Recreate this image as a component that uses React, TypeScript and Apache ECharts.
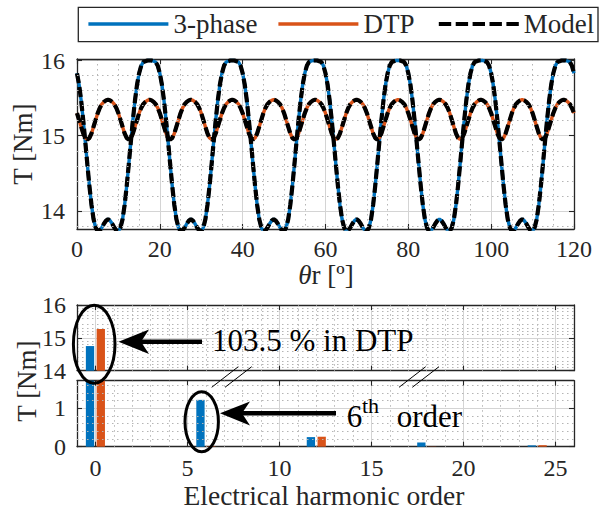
import React, { useEffect, useRef } from 'react';
import * as echarts from 'echarts';

// ---------- data ----------
const thetaStepDeg = 0.5; // sampling step of the rotor angle [deg]

// Torque of the 3-phase machine, theta = 0 .. 120 deg every 0.5 deg
const torque3Phase = [
  15.83, 15.68, 15.47, 15.21, 14.92, 14.62, 14.33, 14.08, 13.89, 13.78, 13.73, 13.74, 13.78, 13.83, 13.87, 13.89, 13.87, 13.83, 13.78, 13.74, 13.73, 13.78, 13.89, 14.08, 14.33, 14.62, 14.92, 15.21, 15.47, 15.68, 15.83, 15.93, 15.98, 15.99, 16.0, 16.0, 16.0, 15.99, 15.98, 15.93,
  15.83, 15.68, 15.47, 15.21, 14.92, 14.62, 14.33, 14.08, 13.89, 13.78, 13.73, 13.74, 13.78, 13.83, 13.87, 13.89, 13.87, 13.83, 13.78, 13.74, 13.73, 13.78, 13.89, 14.08, 14.33, 14.62, 14.92, 15.21, 15.47, 15.68, 15.83, 15.93, 15.98, 15.99, 16.0, 16.0, 16.0, 15.99, 15.98, 15.93,
  15.83, 15.68, 15.47, 15.21, 14.92, 14.62, 14.33, 14.08, 13.89, 13.78, 13.73, 13.74, 13.78, 13.83, 13.87, 13.89, 13.87, 13.83, 13.78, 13.74, 13.73, 13.78, 13.89, 14.08, 14.33, 14.62, 14.92, 15.21, 15.47, 15.68, 15.83, 15.93, 15.98, 15.99, 16.0, 16.0, 16.0, 15.99, 15.98, 15.93,
  15.83, 15.68, 15.47, 15.21, 14.92, 14.62, 14.33, 14.08, 13.89, 13.78, 13.73, 13.74, 13.78, 13.83, 13.87, 13.89, 13.87, 13.83, 13.78, 13.74, 13.73, 13.78, 13.89, 14.08, 14.33, 14.62, 14.92, 15.21, 15.47, 15.68, 15.83, 15.93, 15.98, 15.99, 16.0, 16.0, 16.0, 15.99, 15.98, 15.93,
  15.83, 15.68, 15.47, 15.21, 14.92, 14.62, 14.33, 14.08, 13.89, 13.78, 13.73, 13.74, 13.78, 13.83, 13.87, 13.89, 13.87, 13.83, 13.78, 13.74, 13.73, 13.78, 13.89, 14.08, 14.33, 14.62, 14.92, 15.21, 15.47, 15.68, 15.83, 15.93, 15.98, 15.99, 16.0, 16.0, 16.0, 15.99, 15.98, 15.93,
  15.83, 15.68, 15.47, 15.21, 14.92, 14.62, 14.33, 14.08, 13.89, 13.78, 13.73, 13.74, 13.78, 13.83, 13.87, 13.89, 13.87, 13.83, 13.78, 13.74, 13.73, 13.78, 13.89, 14.08, 14.33, 14.62, 14.92, 15.21, 15.47, 15.68, 15.83, 15.93, 15.98, 15.99, 16.0, 16.0, 16.0, 15.99, 15.98, 15.93,
  15.83,
];

// Torque of the DTP machine, theta = 0 .. 120 deg every 0.5 deg
const torqueDTP = [
  15.30, 15.21, 15.12, 15.03, 14.97, 14.95, 14.97, 15.03, 15.12, 15.21, 15.30, 15.37, 15.42, 15.45, 15.47, 15.48, 15.47, 15.45, 15.42, 15.37,
  15.30, 15.21, 15.12, 15.03, 14.97, 14.95, 14.97, 15.03, 15.12, 15.21, 15.30, 15.37, 15.42, 15.45, 15.47, 15.48, 15.47, 15.45, 15.42, 15.37,
  15.30, 15.21, 15.12, 15.03, 14.97, 14.95, 14.97, 15.03, 15.12, 15.21, 15.30, 15.37, 15.42, 15.45, 15.47, 15.48, 15.47, 15.45, 15.42, 15.37,
  15.30, 15.21, 15.12, 15.03, 14.97, 14.95, 14.97, 15.03, 15.12, 15.21, 15.30, 15.37, 15.42, 15.45, 15.47, 15.48, 15.47, 15.45, 15.42, 15.37,
  15.30, 15.21, 15.12, 15.03, 14.97, 14.95, 14.97, 15.03, 15.12, 15.21, 15.30, 15.37, 15.42, 15.45, 15.47, 15.48, 15.47, 15.45, 15.42, 15.37,
  15.30, 15.21, 15.12, 15.03, 14.97, 14.95, 14.97, 15.03, 15.12, 15.21, 15.30, 15.37, 15.42, 15.45, 15.47, 15.48, 15.47, 15.45, 15.42, 15.37,
  15.30, 15.21, 15.12, 15.03, 14.97, 14.95, 14.97, 15.03, 15.12, 15.21, 15.30, 15.37, 15.42, 15.45, 15.47, 15.48, 15.47, 15.45, 15.42, 15.37,
  15.30, 15.21, 15.12, 15.03, 14.97, 14.95, 14.97, 15.03, 15.12, 15.21, 15.30, 15.37, 15.42, 15.45, 15.47, 15.48, 15.47, 15.45, 15.42, 15.37,
  15.30, 15.21, 15.12, 15.03, 14.97, 14.95, 14.97, 15.03, 15.12, 15.21, 15.30, 15.37, 15.42, 15.45, 15.47, 15.48, 15.47, 15.45, 15.42, 15.37,
  15.30, 15.21, 15.12, 15.03, 14.97, 14.95, 14.97, 15.03, 15.12, 15.21, 15.30, 15.37, 15.42, 15.45, 15.47, 15.48, 15.47, 15.45, 15.42, 15.37,
  15.30, 15.21, 15.12, 15.03, 14.97, 14.95, 14.97, 15.03, 15.12, 15.21, 15.30, 15.37, 15.42, 15.45, 15.47, 15.48, 15.47, 15.45, 15.42, 15.37,
  15.30, 15.21, 15.12, 15.03, 14.97, 14.95, 14.97, 15.03, 15.12, 15.21, 15.30, 15.37, 15.42, 15.45, 15.47, 15.48, 15.47, 15.45, 15.42, 15.37,
  15.30,
];

const torqueTicks = [14, 15, 16];
const torqueMinorTicks = [13.8, 14.2, 14.4, 14.6, 14.8, 15.2, 15.4, 15.6, 15.8];

// Harmonic spectrum (bottom plot)
const harmonicOrders = [0, 6, 12, 18, 24];
const harmonics3Phase = [14.75, 1.22, 0.25, 0.11, 0.035];
const harmonicsDTP = [15.27, 0.01, 0.26, 0.005, 0.04];

const harmonicTicks = [0, 5, 10, 15, 20, 25];
const harmonicMinorTicks = [1, 2, 3, 4, 6, 7, 8, 9, 11, 12, 13, 14, 16, 17, 18, 19, 21, 22, 23, 24];
const upperPanelTicks = [14, 15, 16];
const lowerPanelTicks = [0, 1];
const lowerPanelMinorTicks = [0.2, 0.4, 0.6, 0.8, 1.2, 1.4, 1.6];

// ---------- styles ----------
const FONT = 'Liberation Serif';
const INK = '#262626';
const BLUE = '#0072BD';
const ORANGE = '#D95319';
const GRID_MAJOR = '#d4d4d4';
const GRID_MINOR = '#b5b5b5';
const DOT: number[] = [1.5, 3.5];

const axisLineStyle = { show: true, onZero: false, lineStyle: { color: INK, width: 1.3 } };
const tickStyle = { inside: true, length: 5, lineStyle: { color: INK, width: 1.1 } };
const labelStyle = { color: INK, fontFamily: FONT, fontSize: 24 };
const majorSplit = { show: true, lineStyle: { color: GRID_MAJOR, width: 1 } };
const minorSplit = { show: true, lineStyle: { color: GRID_MINOR, width: 1, type: DOT } };

function minorLinesSeries(xIdx: number, yIdx: number, xs: number[], ys: number[]) {
  return {
    type: 'line',
    name: '__grid' + xIdx,
    xAxisIndex: xIdx,
    yAxisIndex: yIdx,
    data: [],
    silent: true,
    z: 1,
    markLine: {
      silent: true,
      symbol: ['none', 'none'],
      label: { show: false },
      lineStyle: { color: GRID_MINOR, width: 1, type: DOT },
      emphasis: { disabled: true },
      data: [...xs.map((v) => ({ xAxis: v })), ...ys.map((v) => ({ yAxis: v }))],
    },
  };
}

function buildOption() {
  const line3 = torque3Phase.map((v, i) => [i * thetaStepDeg, v]);
  const lineD = torqueDTP.map((v, i) => [i * thetaStepDeg, v]);
  const bars3 = harmonicOrders.map((h, i) => [h, harmonics3Phase[i]]);
  const barsD = harmonicOrders.map((h, i) => [h, harmonicsDTP[i]]);

  const legendBase = {
    padding: 0,
    itemWidth: 80,
    itemHeight: 14,
    itemGap: 0,
    top: 10.5,
    selectedMode: false,
    itemStyle: { opacity: 0 },
    textStyle: { color: INK, fontFamily: FONT, fontSize: 27, padding: [0, 0, 0, 0] },
  };

  const barCommon = { type: 'bar', barWidth: 8.3, barGap: '30%', clip: true };

  const textStyle = (size: number) => ({ fontFamily: FONT, fontSize: size, fill: '#000' });

  return {
    animation: false,
    backgroundColor: '#ffffff',
    legend: [
      { ...legendBase, left: 86.7, data: ['3-phase'], lineStyle: { width: 3.4 } },
      { ...legendBase, left: 276.7, data: ['DTP'], lineStyle: { width: 3.4 } },
      { ...legendBase, left: 436.7, data: ['Model'], lineStyle: { width: 4.2, type: [12.4, 4.5] } },
    ],
    grid: [
      { left: 77, top: 59, width: 497, height: 170 },
      { left: 77, top: 305, width: 497, height: 65.7 },
      { left: 77, top: 380.7, width: 497, height: 66 },
    ],
    xAxis: [
      {
        gridIndex: 0, type: 'value', position: 'bottom', min: 0, max: 120, interval: 20,
        axisLine: axisLineStyle, axisTick: tickStyle,
        axisLabel: { ...labelStyle, margin: 8 },
        splitLine: majorSplit,
        minorTick: { show: false, splitNumber: 4 },
        minorSplitLine: minorSplit,
      },
      {
        gridIndex: 0, type: 'value', position: 'top', min: 0, max: 120, interval: 20,
        axisLine: axisLineStyle, axisTick: tickStyle, axisLabel: { show: false }, splitLine: { show: false },
      },
      {
        gridIndex: 1, type: 'value', position: 'bottom', min: -1, max: 26,
        axisLine: axisLineStyle, axisTick: { ...tickStyle, customValues: harmonicTicks },
        axisLabel: { show: false, customValues: harmonicTicks }, splitLine: majorSplit,
      },
      {
        gridIndex: 1, type: 'value', position: 'top', min: -1, max: 26,
        axisLine: axisLineStyle, axisTick: { ...tickStyle, customValues: harmonicTicks },
        axisLabel: { show: false, customValues: harmonicTicks }, splitLine: { show: false },
      },
      {
        gridIndex: 2, type: 'value', position: 'bottom', min: -1, max: 26,
        axisLine: axisLineStyle, axisTick: { ...tickStyle, customValues: harmonicTicks },
        axisLabel: { ...labelStyle, margin: 9, customValues: harmonicTicks }, splitLine: majorSplit,
      },
      {
        gridIndex: 2, type: 'value', position: 'top', min: -1, max: 26,
        axisLine: axisLineStyle, axisTick: { ...tickStyle, customValues: harmonicTicks },
        axisLabel: { show: false, customValues: harmonicTicks }, splitLine: { show: false },
      },
    ],
    yAxis: [
      {
        gridIndex: 0, type: 'value', position: 'left', min: 13.76, max: 16.02,
        axisLine: axisLineStyle, axisTick: { ...tickStyle, customValues: torqueTicks },
        axisLabel: { ...labelStyle, margin: 12, customValues: torqueTicks }, splitLine: majorSplit,
      },
      {
        gridIndex: 0, type: 'value', position: 'right', min: 13.76, max: 16.02,
        axisLine: axisLineStyle, axisTick: { ...tickStyle, customValues: torqueTicks },
        axisLabel: { show: false, customValues: torqueTicks }, splitLine: { show: false },
      },
      {
        gridIndex: 1, type: 'value', position: 'left', min: 14, max: 16,
        axisLine: axisLineStyle, axisTick: { ...tickStyle, customValues: upperPanelTicks },
        axisLabel: { ...labelStyle, margin: 11, customValues: upperPanelTicks }, splitLine: majorSplit,
        minorTick: { show: false, splitNumber: 5 }, minorSplitLine: minorSplit,
      },
      {
        gridIndex: 1, type: 'value', position: 'right', min: 14, max: 16,
        axisLine: axisLineStyle, axisTick: { ...tickStyle, customValues: upperPanelTicks },
        axisLabel: { show: false, customValues: upperPanelTicks }, splitLine: { show: false },
      },
      {
        gridIndex: 2, type: 'value', position: 'left', min: 0, max: 1.72,
        axisLine: axisLineStyle, axisTick: { ...tickStyle, customValues: lowerPanelTicks },
        axisLabel: { ...labelStyle, margin: 11, customValues: lowerPanelTicks }, splitLine: majorSplit,
      },
      {
        gridIndex: 2, type: 'value', position: 'right', min: 0, max: 1.72,
        axisLine: axisLineStyle, axisTick: { ...tickStyle, customValues: lowerPanelTicks },
        axisLabel: { show: false, customValues: lowerPanelTicks }, splitLine: { show: false },
      },
    ],
    series: [
      {
        type: 'line', name: '3-phase', xAxisIndex: 0, yAxisIndex: 0, data: line3,
        symbol: 'none', showSymbol: false, z: 3, lineStyle: { color: BLUE, width: 3.4 }, itemStyle: { color: BLUE },
      },
      {
        type: 'line', name: 'DTP', xAxisIndex: 0, yAxisIndex: 0, data: lineD,
        symbol: 'none', showSymbol: false, z: 3, lineStyle: { color: ORANGE, width: 3.4 }, itemStyle: { color: ORANGE },
      },
      {
        type: 'line', name: 'Model', xAxisIndex: 0, yAxisIndex: 0, data: line3,
        symbol: 'none', showSymbol: false, z: 4, lineStyle: { color: '#000', width: 4.2, type: [10, 4] }, itemStyle: { color: '#000' },
      },
      {
        type: 'line', name: 'Model', xAxisIndex: 0, yAxisIndex: 0, data: lineD,
        symbol: 'none', showSymbol: false, z: 4, lineStyle: { color: '#000', width: 4.2, type: [10, 4] }, itemStyle: { color: '#000' },
      },
      minorLinesSeries(0, 0, [], torqueMinorTicks),
      minorLinesSeries(2, 2, harmonicMinorTicks, []),
      minorLinesSeries(4, 4, harmonicMinorTicks, lowerPanelMinorTicks),
      { ...barCommon, name: '3-phase', xAxisIndex: 2, yAxisIndex: 2, data: bars3, itemStyle: { color: BLUE } },
      { ...barCommon, name: 'DTP', xAxisIndex: 2, yAxisIndex: 2, data: barsD, itemStyle: { color: ORANGE } },
      { ...barCommon, name: '3-phase', xAxisIndex: 4, yAxisIndex: 4, data: bars3, itemStyle: { color: BLUE } },
      { ...barCommon, name: 'DTP', xAxisIndex: 4, yAxisIndex: 4, data: barsD, itemStyle: { color: ORANGE } },
    ],
    graphic: {
      elements: [
        // legend frame
        { type: 'rect', z: 0, silent: true, shape: { x: 78.3, y: 7.3, width: 519.7, height: 34.4 }, style: { fill: '#fff', stroke: INK, lineWidth: 1.3 } },
        // axis titles
        { type: 'text', z: 50, x: 22.5, y: 144, rotation: Math.PI / 2, style: { ...textStyle(27), fill: INK, text: 'T [Nm]', align: 'center', verticalAlign: 'middle' } },
        { type: 'text', z: 50, x: 27, y: 381, rotation: Math.PI / 2, style: { ...textStyle(27), fill: INK, text: 'T [Nm]', align: 'center', verticalAlign: 'middle' } },
        {
          type: 'text', z: 50, x: 326, y: 275,
          style: { ...textStyle(27), fill: INK, text: '{i|θ}r [º]', align: 'center', verticalAlign: 'middle', rich: { i: { fontStyle: 'italic', fontFamily: FONT, fontSize: 27, fill: INK } } },
        },
        { type: 'text', z: 50, x: 324, y: 495, style: { ...textStyle(27.5), fill: INK, text: 'Electrical harmonic order', align: 'center', verticalAlign: 'middle' } },
        // axis-break marks
        { type: 'line', z: 60, shape: { x1: 211.7, y1: 387.3, x2: 238.3, y2: 366.7 }, style: { stroke: '#000', lineWidth: 1 } },
        { type: 'line', z: 60, shape: { x1: 225, y1: 387.3, x2: 251.7, y2: 366.7 }, style: { stroke: '#000', lineWidth: 1 } },
        { type: 'line', z: 60, shape: { x1: 399, y1: 387.3, x2: 425.7, y2: 366.7 }, style: { stroke: '#000', lineWidth: 1 } },
        { type: 'line', z: 60, shape: { x1: 412.3, y1: 387.3, x2: 439, y2: 366.7 }, style: { stroke: '#000', lineWidth: 1 } },
        // ellipses
        { type: 'ellipse', z: 60, shape: { cx: 94.2, cy: 344.2, rx: 20.8, ry: 39 }, style: { fill: 'none', stroke: '#000', lineWidth: 3 } },
        { type: 'ellipse', z: 60, shape: { cx: 201.7, cy: 421.7, rx: 16.7, ry: 30 }, style: { fill: 'none', stroke: '#000', lineWidth: 3 } },
        // arrows
        { type: 'line', z: 60, shape: { x1: 140, y1: 341.7, x2: 202, y2: 341.7 }, style: { stroke: '#000', lineWidth: 4.5 } },
        { type: 'polygon', z: 60, shape: { points: [[118.5, 341.7], [149, 329.5], [141, 341.7], [149, 354]] }, style: { fill: '#000' } },
        { type: 'line', z: 60, shape: { x1: 241, y1: 413.3, x2: 336, y2: 413.3 }, style: { stroke: '#000', lineWidth: 4.5 } },
        { type: 'polygon', z: 60, shape: { points: [[220, 413.3], [250, 401.5], [242, 413.3], [250, 425.5]] }, style: { fill: '#000' } },
        // annotation texts
        { type: 'text', z: 60, x: 212, y: 340, style: { ...textStyle(31), text: '103.5 % in DTP', align: 'left', verticalAlign: 'middle' } },
        { type: 'text', z: 60, x: 346.7, y: 416.5, style: { ...textStyle(31), text: '6', align: 'left', verticalAlign: 'middle' } },
        { type: 'text', z: 60, x: 362, y: 405, style: { ...textStyle(22), text: 'th', align: 'left', verticalAlign: 'middle' } },
        { type: 'text', z: 60, x: 396.7, y: 416.5, style: { ...textStyle(31), text: 'order', align: 'left', verticalAlign: 'middle' } },
      ],
    },
  };
}

export default function App() {
  const ref = useRef<HTMLDivElement>(null);
  useEffect(() => {
    if (!ref.current) return;
    const chart = echarts.init(ref.current, null, { renderer: 'svg' });
    chart.setOption(buildOption() as any);
    return () => chart.dispose();
  }, []);
  return (
    <div
      ref={ref}
      style={{ position: 'fixed', left: 0, top: 0, width: 601, height: 510, background: '#fff' }}
    />
  );
}
